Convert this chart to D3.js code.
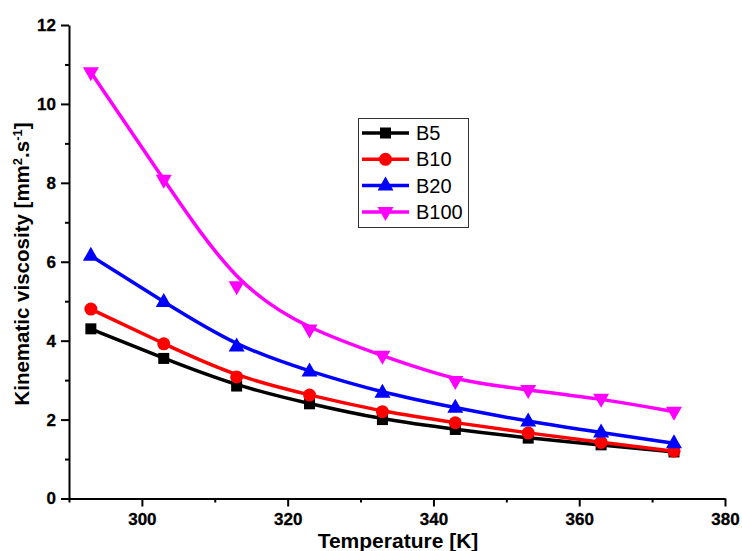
<!DOCTYPE html>
<html><head><meta charset="utf-8">
<script src="https://cdn.jsdelivr.net/npm/d3@7/dist/d3.min.js"></script>
<style>body{margin:0;background:#fff}svg{display:block}text{font-family:"Liberation Sans",Arial,sans-serif}.tick text{font-weight:700 !important;font-size:17px !important}</style>
</head><body>
<svg id="c" width="742" height="551"></svg>
<script>
const temperatures = [293, 303, 313, 323, 333, 343, 353, 363, 373];
const b5   = [4.30, 3.55, 2.85, 2.40, 2.00, 1.75, 1.53, 1.36, 1.18];
const b10  = [4.80, 3.92, 3.08, 2.62, 2.20, 1.92, 1.66, 1.42, 1.20];
const b20  = [6.15, 4.98, 3.85, 3.22, 2.68, 2.30, 1.95, 1.67, 1.40];
const b100 = [10.80, 8.08, 5.38, 4.28, 3.62, 2.98, 2.75, 2.53, 2.20];
const seriesNames = ["B5", "B10", "B20", "B100"];
const xTicks = [300, 320, 340, 360, 380];
const yTicks = [0, 2, 4, 6, 8, 10, 12];

const seriesData = [b5, b10, b20, b100];
const colors = ["#000000", "#ff0000", "#0000ff", "#ff00ff"];
const shapes = ["square", "circle", "triUp", "triDown"];

const svg = d3.select("#c");
const x = d3.scaleLinear().domain([290, 380]).range([69, 725]);
const y = d3.scaleLinear().domain([0, 12]).range([498.5, 25]);

function marker(g, shape, color, cx, cy) {
  if (shape === "square") {
    g.append("rect").attr("x", cx - 5.5).attr("y", cy - 5.5).attr("width", 11).attr("height", 11).attr("fill", color);
  } else if (shape === "circle") {
    g.append("circle").attr("cx", cx).attr("cy", cy).attr("r", 6.5).attr("fill", color);
  } else if (shape === "triUp") {
    g.append("path").attr("d", `M${cx},${cy-9}L${cx+8},${cy+5}L${cx-8},${cy+5}Z`).attr("fill", color);
  } else {
    g.append("path").attr("d", `M${cx-8},${cy-5}L${cx+8},${cy-5}L${cx},${cy+9}Z`).attr("fill", color);
  }
}

const fontAttrs = g => g.attr("font-family", '"Liberation Sans",Arial,sans-serif').attr("font-size", 17).attr("font-weight", "bold");

// axes
svg.append("g").attr("transform", `translate(0,${y(0)})`)
  .call(d3.axisBottom(x).tickValues(xTicks).tickSize(8).tickSizeOuter(0).tickPadding(6).tickFormat(d3.format("d")))
  .call(fontAttrs);
svg.append("g").attr("transform", `translate(0,${y(0)})`)
  .call(d3.axisBottom(x).tickValues([290,310,330,350,370]).tickSize(4).tickSizeOuter(0).tickFormat(""))
  .select(".domain").remove();
svg.append("g").attr("transform", `translate(${x(290)},0)`)
  .call(d3.axisLeft(y).tickValues(yTicks).tickSize(8).tickSizeOuter(0).tickPadding(5).tickFormat(d3.format("d")))
  .call(fontAttrs);
svg.append("g").attr("transform", `translate(${x(290)},0)`)
  .call(d3.axisLeft(y).tickValues([1,3,5,7,9,11]).tickSize(4).tickSizeOuter(0).tickFormat(""))
  .select(".domain").remove();
svg.selectAll(".domain, .tick line").attr("stroke", "#000").attr("stroke-width", 2);
svg.selectAll(".tick text").attr("fill", "#000").attr("font-weight", "bold").attr("stroke", "#000").attr("stroke-width", 0.3);

// axis titles
svg.append("text").attr("x", 398).attr("y", 548).attr("text-anchor", "middle")
  .style("font-size", "21px").style("font-weight", "bold").text("Temperature [K]");
const yl = svg.append("text").attr("transform", "translate(29,264) rotate(-90)").attr("text-anchor", "middle")
  .style("font-size", "20.5px").style("font-weight", "bold");
yl.append("tspan").text("Kinematic viscosity [mm");
yl.append("tspan").attr("baseline-shift", "super").style("font-size", "13px").text("2");
yl.append("tspan").text(".s");
yl.append("tspan").attr("baseline-shift", "super").style("font-size", "13px").text("-1");
yl.append("tspan").text("]");

// series
const line = d3.line().x((d, i) => x(temperatures[i])).y(d => y(d)).curve(d3.curveBasis);
seriesData.forEach((vals, k) => {
  const g = svg.append("g");
  g.append("path").attr("d", line(vals)).attr("fill", "none").attr("stroke", colors[k]).attr("stroke-width", 3.5);
  vals.forEach((v, i) => marker(g, shapes[k], colors[k], x(temperatures[i]), y(v)));
});

// legend
const lg = svg.append("g");
lg.append("rect").attr("x", 358.5).attr("y", 118.5).attr("width", 110).attr("height", 109)
  .attr("fill", "#fff").attr("stroke", "#333").attr("stroke-width", 1);
seriesNames.forEach((n, k) => {
  const cy = 133 + k * 26.3;
  lg.append("line").attr("x1", 362).attr("x2", 409).attr("y1", cy).attr("y2", cy)
    .attr("stroke", colors[k]).attr("stroke-width", 3.5);
  marker(lg, shapes[k], colors[k], 385.5, cy);
  lg.append("text").attr("x", 416).attr("y", cy + 7).style("font-size", "20px").attr("fill", "#000").text(n);
});
</script>
</body></html>
